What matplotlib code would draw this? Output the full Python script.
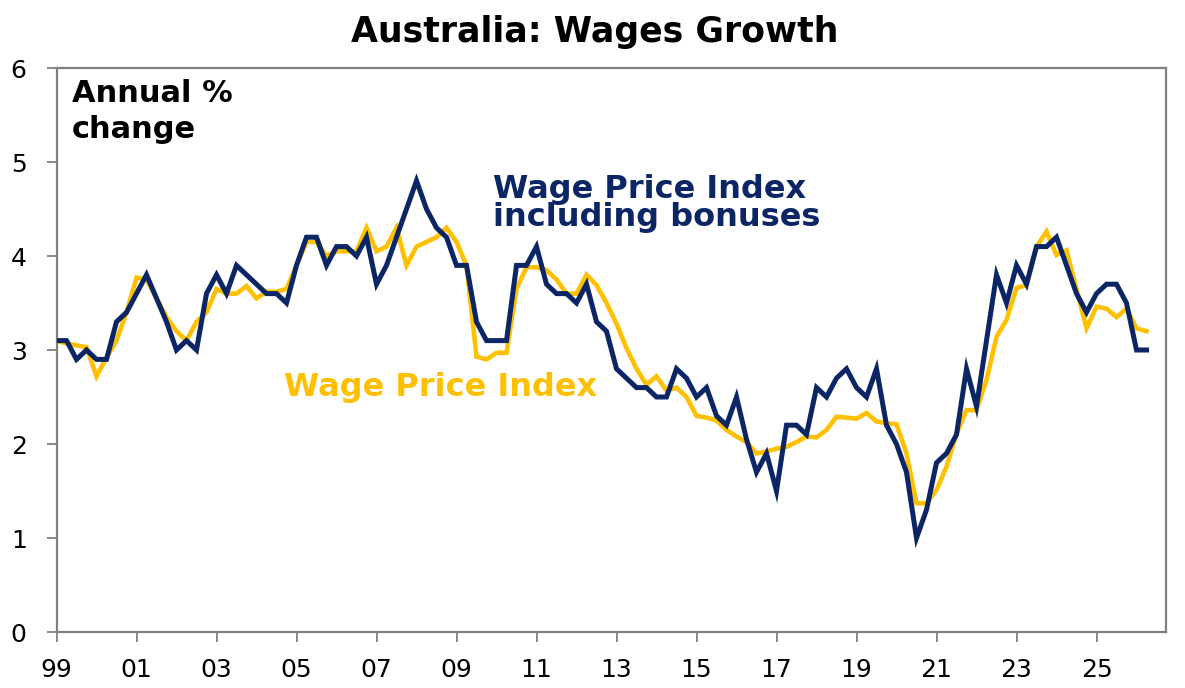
import matplotlib
matplotlib.use("Agg")
import matplotlib.pyplot as plt
import numpy as np

# Quarterly data, starting Q1 1999
start_year = 1999.0
wpi_incl_bonuses = [
    3.1, 3.1, 2.9, 3.0, 2.9, 2.9, 3.3, 3.4, 3.6, 3.8,
    3.55, 3.3, 3.0, 3.1, 3.0, 3.6, 3.8, 3.6, 3.9, 3.8,
    3.7, 3.6, 3.6, 3.5, 3.9, 4.2, 4.2, 3.9, 4.1, 4.1,
    4.0, 4.2, 3.7, 3.9, 4.2, 4.5, 4.8, 4.5, 4.3, 4.2,
    3.9, 3.9, 3.3, 3.1, 3.1, 3.1, 3.9, 3.9, 4.1, 3.7,
    3.6, 3.6, 3.5, 3.7, 3.3, 3.2, 2.8, 2.7, 2.6, 2.6,
    2.5, 2.5, 2.8, 2.7, 2.5, 2.6, 2.3, 2.2, 2.5, 2.05,
    1.7, 1.9, 1.5, 2.2, 2.2, 2.1, 2.6, 2.5, 2.7, 2.8,
    2.6, 2.5, 2.8, 2.2, 2.0, 1.7, 1.0, 1.3, 1.8, 1.9,
    2.1, 2.8, 2.4, 3.1, 3.8, 3.5, 3.9, 3.7, 4.1, 4.1,
    4.2, 3.9, 3.6, 3.4, 3.6, 3.7, 3.7, 3.5, 3.0, 3.0,
]
wpi = [
    3.1, 3.07, 3.05, 3.03, 2.72, 2.92, 3.1, 3.4, 3.77, 3.75,
    3.55, 3.35, 3.2, 3.1, 3.3, 3.4, 3.65, 3.6, 3.6, 3.68,
    3.55, 3.62, 3.62, 3.65, 3.9, 4.15, 4.15, 4.0, 4.05, 4.05,
    4.05, 4.3, 4.05, 4.1, 4.3, 3.9, 4.1, 4.15, 4.2, 4.3,
    4.15, 3.9, 2.93, 2.9, 2.97, 2.97, 3.65, 3.88, 3.88, 3.85,
    3.75, 3.6, 3.6, 3.8, 3.69, 3.5, 3.28, 3.02, 2.8, 2.63,
    2.72, 2.57, 2.6, 2.5, 2.3, 2.28, 2.25, 2.15, 2.08, 2.02,
    1.9, 1.92, 1.95, 1.97, 2.02, 2.08, 2.07, 2.15, 2.29, 2.28,
    2.27, 2.33, 2.24, 2.22, 2.21, 1.9, 1.37, 1.37, 1.51, 1.76,
    2.11, 2.36, 2.36, 2.68, 3.14, 3.32, 3.66, 3.69, 4.1, 4.26,
    4.01, 4.06, 3.65, 3.23, 3.46, 3.44, 3.35, 3.44, 3.23, 3.2,
]
tick_years = list(range(1999, 2026, 2))
tick_labels = ["99", "01", "03", "05", "07", "09", "11", "13",
               "15", "17", "19", "21", "23", "25"]
y_ticks = [0, 1, 2, 3, 4, 5, 6]

title = "Australia: Wages Growth"
navy = "#0B2565"
gold = "#FFC000"
spine_col = "#808080"

W, H = 1185, 688
fig = plt.figure(figsize=(W / 100, H / 100), dpi=100)
fig.patch.set_facecolor("white")
left, right, top, bottom = 56.5, 1166, 68, 632
ax = fig.add_axes([left / W, 1 - bottom / H, (right - left) / W, (bottom - top) / H])

x = start_year + 0.25 * np.arange(len(wpi))
ax.plot(x, wpi, color=gold, lw=3.3, solid_joinstyle="miter", zorder=3)
ax.plot(x, wpi_incl_bonuses, color=navy, lw=3.6, solid_joinstyle="miter", zorder=4)

ax.set_xlim(1999.0, 1999.0 + (right - left) / 40.0)
ax.set_ylim(0, 6)
ax.set_xticks(tick_years)
ax.set_xticklabels(tick_labels)
ax.set_yticks(y_ticks)
ax.set_yticklabels([str(v) for v in y_ticks])

for s in ax.spines.values():
    s.set_color(spine_col)
    s.set_linewidth(1.6)

ax.tick_params(axis="both", direction="out", length=7.5, width=1.3,
               color=spine_col, labelsize=18, labelcolor="black")
ax.tick_params(axis="x", pad=11)
ax.tick_params(axis="y", pad=14)
for lab in ax.get_xticklabels() + ax.get_yticklabels():
    lab.set_family("DejaVu Sans")

def ftxt(px, py, s, **kw):
    fig.text(px / W, 1 - py / H, s, **kw)

ftxt(595, 42, title, ha="center", va="baseline", fontsize=25,
     fontweight="bold", color="black", family="DejaVu Sans")
ftxt(72, 101.5, "Annual %", ha="left", va="baseline", fontsize=22,
     fontweight="bold", color="black", family="DejaVu Sans")
ftxt(72, 137.5, "change", ha="left", va="baseline", fontsize=22,
     fontweight="bold", color="black", family="DejaVu Sans")
ftxt(493, 198, "Wage Price Index", ha="left", va="baseline", fontsize=23,
     fontweight="bold", color=navy, family="DejaVu Sans")
ftxt(493, 226, "including bonuses", ha="left", va="baseline", fontsize=23,
     fontweight="bold", color=navy, family="DejaVu Sans")
ftxt(284, 396, "Wage Price Index", ha="left", va="baseline", fontsize=23,
     fontweight="bold", color=gold, family="DejaVu Sans")

fig.savefig("out.png", dpi=100, facecolor="white")
